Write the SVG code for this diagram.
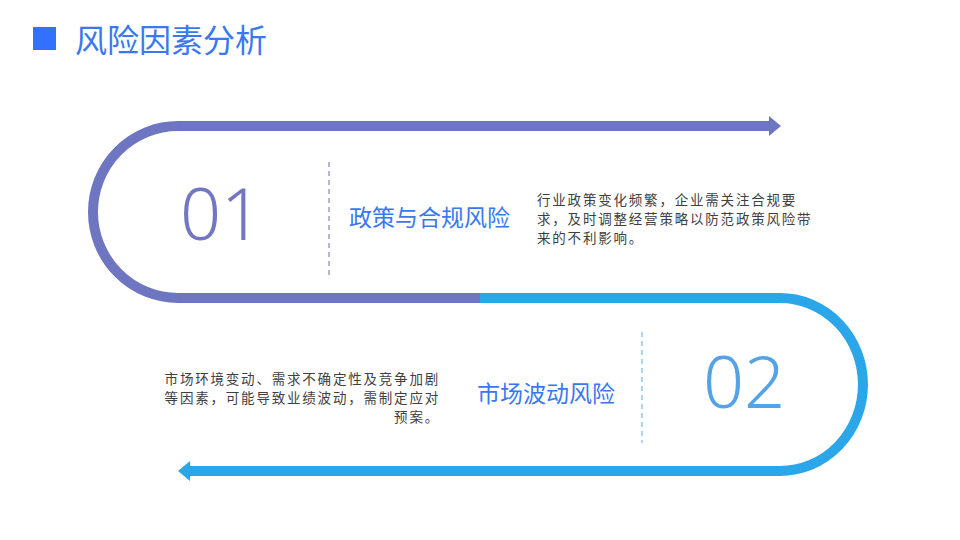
<svg xmlns="http://www.w3.org/2000/svg" width="960" height="540" viewBox="0 0 960 540">
<style>
.cn{font-family:"Noto Sans CJK SC","Noto Sans",sans-serif}
.title{font-size:32px;fill:#3A78F2}
.head{font-size:23px;fill:#3A78F2}
.num{font-family:"Noto Sans","Liberation Sans",sans-serif;font-weight:300;font-size:72px}
.desc{font-size:13.5px;fill:#404040;letter-spacing:1.8px}
.purple{stroke:#6E76C1;fill:none;stroke-width:10}
.blue{stroke:#2BA6E8;fill:none;stroke-width:10}
</style>
<rect width="960" height="540" fill="#FFFFFF"/>
<g id="title">
<rect x="33" y="27" width="23" height="23" fill="#3370FF"/>
<text class="cn title" x="75" y="52">风险因素分析</text>
</g>
<g id="connectors">
<path class="purple" d="M770 126 H178 A85 86 0 0 0 178 298 H480"/>
<polygon points="769,116 781,126 769,136" fill="#6E76C1"/>
<path class="blue" d="M480 298 H780 A83 86.5 0 0 1 780 471 H188"/>
<polygon points="190,461 178,471 190,481" fill="#2BA6E8"/>
</g>
<g id="node1">
<text class="num" x="221" y="240" text-anchor="middle" fill="#7377C2">01</text>
<line x1="329" y1="162" x2="329" y2="275" stroke="#8C90CC" stroke-width="1.3" stroke-dasharray="5,4"/>
<text class="cn head" x="349" y="226">政策与合规风险</text>
<text class="cn desc" x="537" y="205">行业政策变化频繁，企业需关注合规要</text>
<text class="cn desc" x="537" y="224">求，及时调整经营策略以防范政策风险带</text>
<text class="cn desc" x="537" y="243">来的不利影响。</text>
</g>
<g id="node2">
<text class="num" x="744" y="408" text-anchor="middle" fill="#55A3E5">02</text>
<line x1="642" y1="332" x2="642" y2="443" stroke="#7FBDEB" stroke-width="1.3" stroke-dasharray="5,4"/>
<text class="cn head" x="477" y="402">市场波动风险</text>
<text class="cn desc" x="440" y="384" text-anchor="end">市场环境变动、需求不确定性及竞争加剧</text>
<text class="cn desc" x="440" y="403" text-anchor="end">等因素，可能导致业绩波动，需制定应对</text>
<text class="cn desc" x="440" y="422" text-anchor="end">预案。</text>
</g>
</svg>
